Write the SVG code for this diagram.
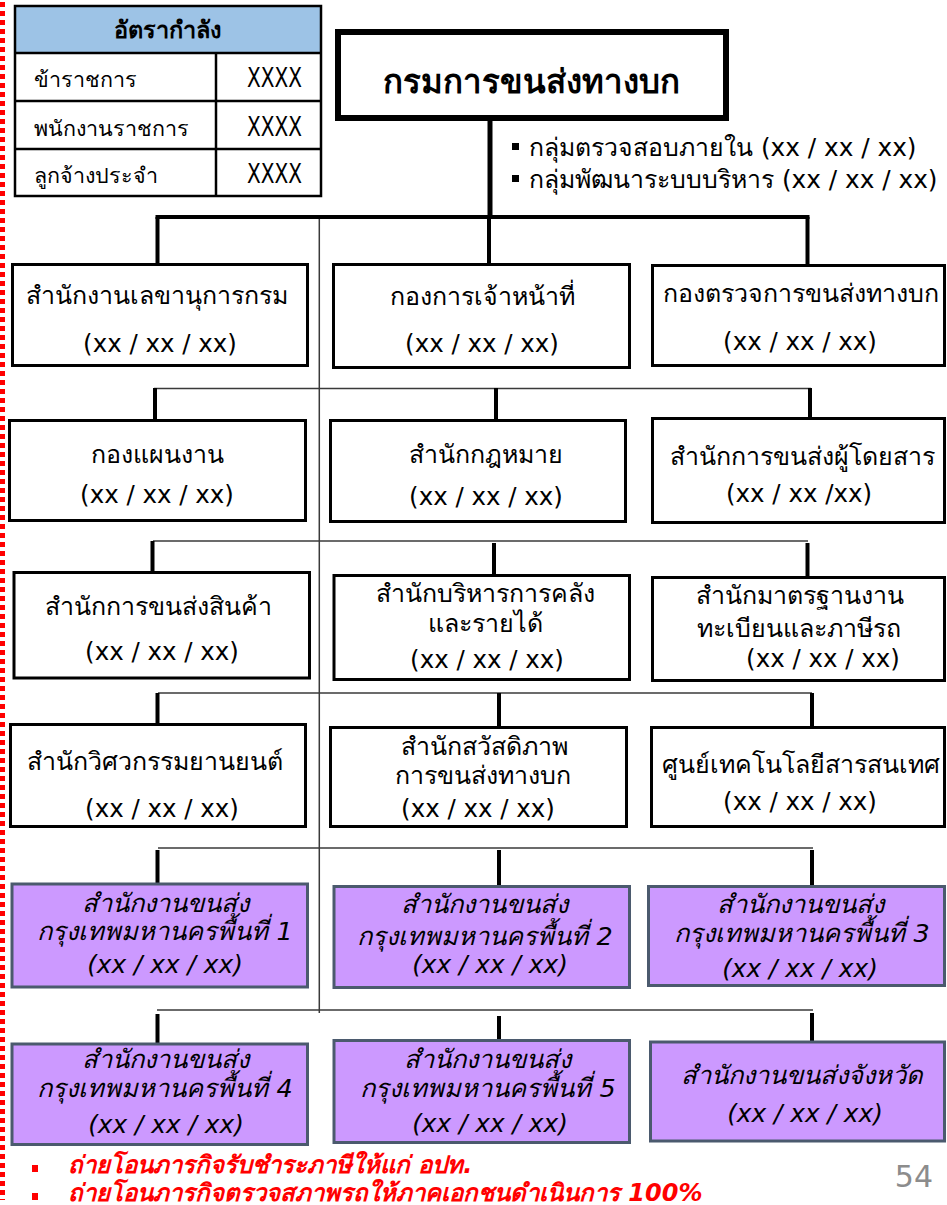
<svg xmlns="http://www.w3.org/2000/svg" width="947" height="1205" viewBox="0 0 947 1205">
<style>
.t{font-family:"DejaVu Sans","Noto Sans",sans-serif;font-size:25px;fill:#000;text-anchor:middle}
.x{font-family:"DejaVu Sans","Noto Sans",sans-serif;font-size:24.5px;fill:#000;text-anchor:middle}
.ti{font-family:"DejaVu Sans","Noto Sans",sans-serif;font-size:25.5px;fill:#000;text-anchor:middle;font-style:italic}
.xi{font-family:"DejaVu Sans","Noto Sans",sans-serif;font-size:24.8px;fill:#000;text-anchor:middle;font-style:italic}
.g{font-family:"DejaVu Sans","Noto Sans",sans-serif;font-size:24.8px;fill:#000}
.box{fill:#fff;stroke:#000;stroke-width:3}
.pbox{fill:#cc99ff;stroke:#4b5a6e;stroke-width:3}
.thick{stroke:#000;stroke-width:4;fill:none}
.thin{stroke:#3a3a3a;stroke-width:1.5;fill:none}
.tb{font-family:"DejaVu Sans","Noto Sans",sans-serif;font-size:21.5px;fill:#000}
.tx{font-family:"DejaVu Sans","Noto Sans",sans-serif;font-size:26px;fill:#000}
.red{font-family:"DejaVu Sans","Noto Sans",sans-serif;font-size:24px;fill:#ff0000;font-style:italic;font-weight:bold}
</style>
<rect width="947" height="1205" fill="#fff"/>
<line x1="2.5" y1="2" x2="2.5" y2="1200" stroke="#ff0000" stroke-width="5" stroke-dasharray="5 4"/>

<g id="table">
<rect x="15" y="6" width="306" height="47" fill="#9dc3e6"/>
<rect x="15" y="6" width="306" height="190" fill="none" stroke="#000" stroke-width="2.5"/>
<line x1="15" y1="53" x2="321" y2="53" stroke="#000" stroke-width="2.5"/>
<line x1="15" y1="101" x2="321" y2="101" stroke="#000" stroke-width="2.5"/>
<line x1="15" y1="149" x2="321" y2="149" stroke="#000" stroke-width="2.5"/>
<line x1="216" y1="53" x2="216" y2="196" stroke="#000" stroke-width="2.5"/>
<text class="tb" x="167" y="38" text-anchor="middle" font-weight="bold" style="font-size:23.5px">อัตรากำลัง</text>
<text class="tb" x="34" y="87">ข้าราชการ</text>
<text class="tb" x="34" y="136">พนักงานราชการ</text>
<text class="tb" x="34" y="183">ลูกจ้างประจำ</text>
<text class="tx" x="247" y="87" textLength="55" lengthAdjust="spacingAndGlyphs">XXXX</text>
<text class="tx" x="247" y="136" textLength="55" lengthAdjust="spacingAndGlyphs">XXXX</text>
<text class="tx" x="247" y="183" textLength="55" lengthAdjust="spacingAndGlyphs">XXXX</text>
</g>

<g id="connectors">
<line class="thick" x1="490" y1="121" x2="490" y2="217" style="stroke-width:5"/>
<line class="thick" x1="155.5" y1="217" x2="809.5" y2="217"/>
<line class="thick" x1="157.5" y1="217" x2="157.5" y2="263"/>
<line class="thick" x1="489" y1="217" x2="489" y2="263"/>
<line class="thick" x1="807.5" y1="217" x2="807.5" y2="264"/>
<line class="thin" x1="319.3" y1="219" x2="319.3" y2="1013"/>
<line class="thin" x1="154" y1="388.5" x2="811" y2="388.5"/>
<line class="thick" x1="155" y1="388" x2="155" y2="419"/>
<line class="thick" x1="496" y1="388" x2="496" y2="419"/>
<line class="thick" x1="810" y1="388" x2="810" y2="417"/>
<line class="thin" x1="153" y1="541" x2="808" y2="541"/>
<line class="thick" x1="152.5" y1="541" x2="152.5" y2="571"/>
<line class="thick" x1="494" y1="543" x2="494" y2="574"/>
<line class="thick" x1="807.5" y1="543" x2="807.5" y2="576"/>
<line class="thin" x1="158" y1="693" x2="812" y2="693"/>
<line class="thick" x1="157.5" y1="693" x2="157.5" y2="723"/>
<line class="thick" x1="499" y1="693" x2="499" y2="726"/>
<line class="thick" x1="812" y1="693" x2="812" y2="726"/>
<line class="thin" x1="158" y1="848" x2="813" y2="848"/>
<line class="thick" x1="157.5" y1="850" x2="157.5" y2="883"/>
<line class="thick" x1="499" y1="850" x2="499" y2="885"/>
<line class="thick" x1="812" y1="850" x2="812" y2="885"/>
<line class="thin" x1="157" y1="1010" x2="813" y2="1010"/>
<line class="thick" x1="157.5" y1="1014" x2="157.5" y2="1043"/>
<line class="thick" x1="499" y1="1016" x2="499" y2="1040"/>
<line class="thick" x1="812" y1="1013" x2="812" y2="1041"/>
</g>

<g id="title">
<rect x="338" y="32" width="388" height="86" fill="#fff" stroke="#000" stroke-width="6"/>
<text class="t" x="531" y="93" font-weight="bold" style="font-size:33px">กรมการขนส่งทางบก</text>
</g>

<g id="groups">
<rect x="512" y="143" width="7" height="7" fill="#000"/>
<rect x="512" y="175" width="7" height="7" fill="#000"/>
<text class="g" x="529" y="156">กลุ่มตรวจสอบภายใน (xx / xx / xx)</text>
<text class="g" x="529" y="188">กลุ่มพัฒนาระบบบริหาร (xx / xx / xx)</text>
</g>

<g id="n1"><rect class="box" x="12.5" y="264.5" width="295" height="101"/>
<text class="t" x="157" y="304">สำนักงานเลขานุการกรม</text><text class="x" x="160" y="352">(xx / xx / xx)</text></g>
<g id="n2"><rect class="box" x="333.5" y="264.5" width="296" height="103"/>
<text class="t" x="482" y="305">กองการเจ้าหน้าที่</text><text class="x" x="482" y="352">(xx / xx / xx)</text></g>
<g id="n3"><rect class="box" x="652.5" y="265.5" width="292" height="100"/>
<text class="t" x="801" y="302">กองตรวจการขนส่งทางบก</text><text class="x" x="800" y="350">(xx / xx / xx)</text></g>

<g id="n4"><rect class="box" x="9.5" y="420.5" width="296" height="100"/>
<text class="t" x="157" y="463">กองแผนงาน</text><text class="x" x="157" y="503">(xx / xx / xx)</text></g>
<g id="n5"><rect class="box" x="330.5" y="420.5" width="295" height="101"/>
<text class="t" x="486" y="463">สำนักกฎหมาย</text><text class="x" x="486" y="505">(xx / xx / xx)</text></g>
<g id="n6"><rect class="box" x="652.5" y="418.5" width="292" height="104"/>
<text class="t" x="802" y="465">สำนักการขนส่งผู้โดยสาร</text><text class="x" x="799" y="502">(xx / xx /xx)</text></g>

<g id="n7"><rect class="box" x="14" y="572.5" width="295.5" height="105.5"/>
<text class="t" x="158" y="615">สำนักการขนส่งสินค้า</text><text class="x" x="162" y="660">(xx / xx / xx)</text></g>
<g id="n8"><rect class="box" x="334" y="575.5" width="295.5" height="104"/>
<text class="t" x="485" y="602">สำนักบริหารการคลัง</text><text class="t" x="485" y="632">และรายได้</text><text class="x" x="487" y="668">(xx / xx / xx)</text></g>
<g id="n9"><rect class="box" x="652.5" y="577.5" width="292" height="103"/>
<text class="t" x="800" y="604">สำนักมาตรฐานงาน</text><text class="t" x="799" y="637">ทะเบียนและภาษีรถ</text><text class="x" x="823" y="667">(xx / xx / xx)</text></g>

<g id="n10"><rect class="box" x="10.5" y="724.5" width="295" height="102"/>
<text class="t" x="155" y="770">สำนักวิศวกรรมยานยนต์</text><text class="x" x="162" y="817">(xx / xx / xx)</text></g>
<g id="n11"><rect class="box" x="330.5" y="727.5" width="296" height="99"/>
<text class="t" x="484" y="755">สำนักสวัสดิภาพ</text><text class="t" x="483" y="784">การขนส่งทางบก</text><text class="x" x="478" y="817">(xx / xx / xx)</text></g>
<g id="n12"><rect class="box" x="651.5" y="727.5" width="293" height="99"/>
<text class="t" x="801" y="773">ศูนย์เทคโนโลยีสารสนเทศ</text><text class="x" x="800" y="810">(xx / xx / xx)</text></g>

<g id="n13"><rect class="pbox" x="12" y="884" width="295.5" height="103"/>
<text class="ti" x="165" y="912">สำนักงานขนส่ง</text><text class="ti" x="165" y="940">กรุงเทพมหานครพื้นที่ 1</text><text class="xi" x="165" y="973">(xx / xx / xx)</text></g>
<g id="n14"><rect class="pbox" x="334" y="886.5" width="295.5" height="101"/>
<text class="ti" x="484" y="913">สำนักงานขนส่ง</text><text class="ti" x="485" y="945">กรุงเทพมหานครพื้นที่ 2</text><text class="xi" x="490" y="973">(xx / xx / xx)</text></g>
<g id="n15"><rect class="pbox" x="648.5" y="886.5" width="296" height="99"/>
<text class="ti" x="800" y="913">สำนักงานขนส่ง</text><text class="ti" x="802" y="942">กรุงเทพมหานครพื้นที่ 3</text><text class="xi" x="800" y="977">(xx / xx / xx)</text></g>

<g id="n16"><rect class="pbox" x="12" y="1044" width="295.5" height="100.5"/>
<text class="ti" x="165" y="1068">สำนักงานขนส่ง</text><text class="ti" x="165" y="1097">กรุงเทพมหานครพื้นที่ 4</text><text class="xi" x="166" y="1133">(xx / xx / xx)</text></g>
<g id="n17"><rect class="pbox" x="334" y="1040.5" width="295.5" height="102"/>
<text class="ti" x="487" y="1068">สำนักงานขนส่ง</text><text class="ti" x="488" y="1097">กรุงเทพมหานครพื้นที่ 5</text><text class="xi" x="490" y="1132">(xx / xx / xx)</text></g>
<g id="n18"><rect class="pbox" x="650.5" y="1042" width="294" height="99"/>
<text class="ti" x="802" y="1084">สำนักงานขนส่งจังหวัด</text><text class="xi" x="805" y="1122">(xx / xx / xx)</text></g>

<g id="notes">
<rect x="32" y="1165" width="6" height="7" fill="#ff0000"/>
<rect x="32" y="1193" width="6" height="7" fill="#ff0000"/>
<text class="red" x="68" y="1173">ถ่ายโอนภารกิจรับชำระภาษีให้แก่ อปท.</text>
<text class="red" x="68" y="1201">ถ่ายโอนภารกิจตรวจสภาพรถให้ภาคเอกชนดำเนินการ 100%</text>
</g>
<text x="933" y="1187" text-anchor="end" font-family="DejaVu Sans, sans-serif" font-size="30" fill="#8c8c8c">54</text>
</svg>
